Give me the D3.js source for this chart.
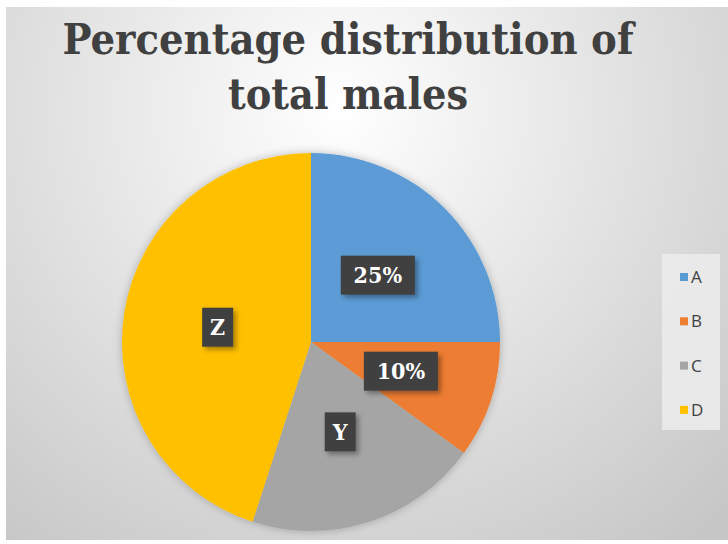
<!DOCTYPE html>
<html><head><meta charset="utf-8">
<script src="https://cdn.jsdelivr.net/npm/d3@7/dist/d3.min.js"></script>
<style>html,body{margin:0;padding:0;background:#fff;}svg{display:block;}</style>
</head><body>
<script>
const categories = ["A","B","C","D"];
const values = [25,10,20,45];
const labels = ["25%","10%","Y","Z"];
const colors = ["#5b9bd5","#ed7d31","#a5a5a5","#ffc000"];
const titleLines = ["Percentage distribution of","total males"];

const W=728,H=544;
const svg=d3.select("body").append("svg").attr("width",W).attr("height",H);
const defs=svg.append("defs");
const rg=defs.append("radialGradient").attr("id","bg").attr("gradientUnits","userSpaceOnUse")
  .attr("cx",340).attr("cy",110).attr("r",560);
rg.append("stop").attr("offset","0").attr("stop-color","#ffffff");
rg.append("stop").attr("offset","0.35").attr("stop-color","#ebebeb");
rg.append("stop").attr("offset","1").attr("stop-color","#c6c6c6");
const sh=defs.append("filter").attr("id","sh").attr("x","-30%").attr("y","-30%").attr("width","160%").attr("height","160%");
sh.append("feDropShadow").attr("dx",3).attr("dy",3).attr("stdDeviation",2.5).attr("flood-color","#000").attr("flood-opacity",0.35);
const ps=defs.append("filter").attr("id","ps").attr("x","-20%").attr("y","-20%").attr("width","140%").attr("height","140%");
ps.append("feDropShadow").attr("dx",0).attr("dy",0).attr("stdDeviation",4).attr("flood-color","#000").attr("flood-opacity",0.25);

svg.append("rect").attr("x",6).attr("y",7).attr("width",W-6).attr("height",533).attr("fill","url(#bg)");

const tfont="'DejaVu Serif Condensed','DejaVu Serif',serif";
const titleW=[571,240];
const title=svg.append("text").attr("text-anchor","middle")
  .attr("font-family",tfont).attr("font-stretch","condensed").attr("font-weight","bold")
  .attr("font-size",43).attr("fill","#404040");
titleLines.forEach((t,i)=>title.append("tspan").attr("x",348).attr("y",54+i*55)
  .attr("textLength",titleW[i]).attr("lengthAdjust","spacingAndGlyphs").text(t));

const cx=311,cy=342,R=189;
const pie=d3.pie().sort(null).value(d=>d)(values);
const arc=d3.arc().innerRadius(0).outerRadius(R);
const lab=d3.arc().innerRadius(R*0.5).outerRadius(R*0.5);
const g=svg.append("g").attr("transform",`translate(${cx},${cy})`);
g.append("g").attr("filter","url(#ps)").selectAll("path").data(pie).join("path")
  .attr("d",arc).attr("fill",(d,i)=>colors[i]);

const lg=g.selectAll("g.lab").data(pie).join("g").attr("class","lab")
  .attr("transform",d=>`translate(${lab.centroid(d)})`);
lg.each(function(d,i){
  const s=d3.select(this);
  const t=labels[i];
  const w=t.length>1?74:31, h=39;
  s.append("rect").attr("x",-w/2).attr("y",-h/2).attr("width",w).attr("height",h)
    .attr("fill","#404040").attr("filter","url(#sh)");
  s.append("text").attr("text-anchor","middle").attr("dy","0.36em")
    .attr("font-family",tfont).attr("font-stretch","condensed").attr("font-weight","bold")
    .attr("font-size",23).attr("fill","#fff").text(t);
});

const leg=svg.append("g");
leg.append("rect").attr("x",662).attr("y",254).attr("width",58).attr("height",176).attr("fill","#ececec").attr("opacity",0.85);
const items=leg.selectAll("g.it").data(categories).join("g").attr("class","it")
  .attr("transform",(d,i)=>`translate(680,${277+i*44.3})`);
items.append("rect").attr("x",0).attr("y",-4).attr("width",8).attr("height",8).attr("fill",(d,i)=>colors[i]);
items.append("text").attr("x",11).attr("dy","0.36em").attr("font-family","'Open Sans','Liberation Sans',sans-serif")
  .attr("font-size",17).attr("fill","#404040").text(d=>d);
</script>
</body></html>
